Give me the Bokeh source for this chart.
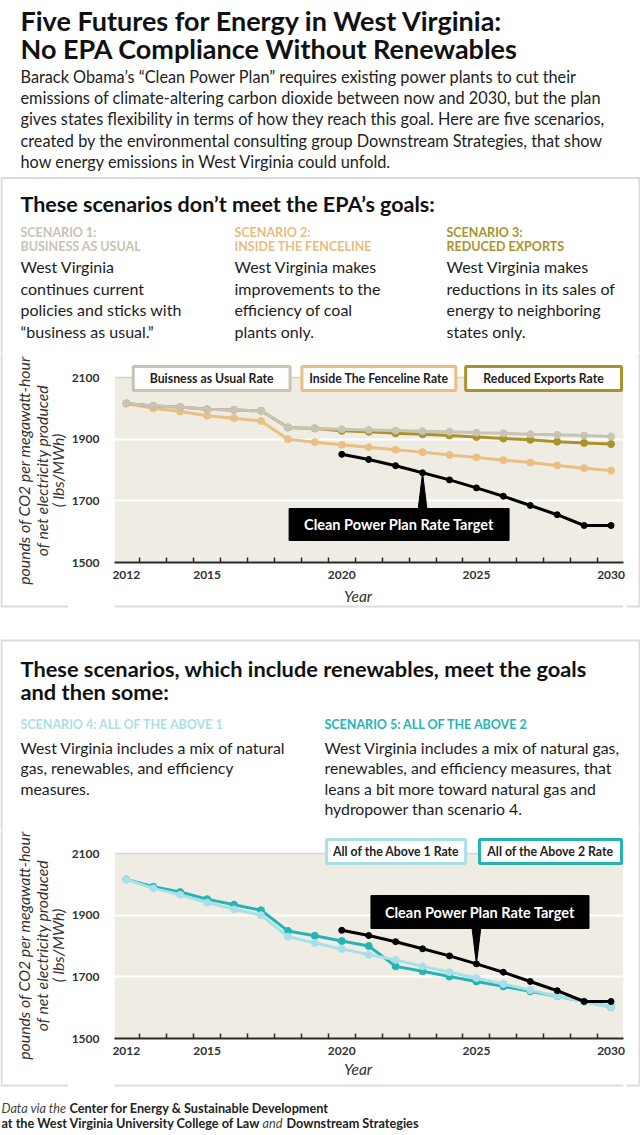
from math import pi
from bokeh.plotting import figure
from bokeh.layouts import column, row
from bokeh.models import Range1d, FixedTicker
from bokeh.embed import file_html
from bokeh.resources import INLINE
from bokeh.core.properties import value

# ---------------- data ----------------
years = list(range(2012, 2031))
business_as_usual = [2016, 2008, 2004, 1997, 1995, 1992, 1938, 1935, 1932, 1930,
                     1928, 1926, 1924, 1921, 1919, 1916, 1914, 1912, 1909]
inside_fenceline = [2016, 2000, 1990, 1976, 1968, 1959, 1900, 1890, 1882, 1874,
                    1866, 1858, 1849, 1841, 1832, 1824, 1815, 1806, 1798]
reduced_exports = [2016, 2008, 2004, 1997, 1995, 1992, 1938, 1935, 1927, 1924,
                   1919, 1916, 1912, 1907, 1902, 1898, 1892, 1888, 1884]
all_above_1 = [2016, 1987, 1966, 1941, 1919, 1900, 1830, 1810, 1790, 1772,
               1755, 1734, 1715, 1696, 1677, 1657, 1637, 1620, 1602]
all_above_2 = [2016, 1992, 1975, 1952, 1934, 1916, 1849, 1833, 1816, 1800,
               1734, 1718, 1701, 1685, 1669, 1653, 1637, 1620, 1602]
cpp_years = list(range(2020, 2031))
cpp_target = [1851, 1834, 1814, 1791, 1768, 1742, 1715, 1685, 1655, 1620, 1620]
y_ticks = [1500, 1700, 1900, 2100]
x_label_years = [2012, 2015, 2020, 2025, 2030]

# ---------------- style ----------------
FONT = "Lato"
BEIGE = "#efede3"
C_BAU = "#c8c3b4"
C_FENCE = "#eabf84"
C_RED = "#a8942a"
C_A1 = "#a9dfe8"
C_A2 = "#25b4b6"
BORDER = "#dcdcdc"
DARK = "#1c1c1c"
W = 640


def pix_fig(x0, x1, y0, y1):
    p = figure(width=int(x1 - x0), height=int(y1 - y0),
               x_range=Range1d(x0, x1), y_range=Range1d(-y1, -y0),
               min_border=0, toolbar_location=None, output_backend="svg",
               x_axis_type=None, y_axis_type=None, outline_line_color=None,
               background_fill_color="white", border_fill_color="white")
    return p


def txt(p, x, y, s, size, color=DARK, style="normal", align="left",
        baseline="middle", angle=0):
    p.text(x=[x], y=[-y], text=[s], text_font=value(FONT),
           text_font_size=value(f"{size}px"), text_color=color,
           text_font_style=style, text_align=align, text_baseline=baseline,
           angle=angle)


def hline(p, x0, x1, y, color=BORDER, w=2):
    p.line(x=[x0, x1], y=[-y, -y], line_color=color, line_width=w)


def vline(p, x, y0, y1, color=BORDER, w=2):
    p.line(x=[x, x], y=[-y0, -y1], line_color=color, line_width=w)


# ---------------- header + panel 1 text ----------------
A = pix_fig(0, W, 0, 352)
txt(A, 20, 20, "Five Futures for Energy in West Virginia:", 27, "#111", "bold")
txt(A, 20, 48, "No EPA Compliance Without Renewables", 27, "#111", "bold")
para = [
    "Barack Obama\u2019s \u201cClean Power Plan\u201d requires existing power plants to cut their",
    "emissions of climate-altering carbon dioxide between now and 2030, but the plan",
    "gives states flexibility in terms of how they reach this goal. Here are five scenarios,",
    "created by the environmental consulting group Downstream Strategies, that show",
    "how energy emissions in West Virginia could unfold.",
]
for i, s in enumerate(para):
    txt(A, 20, 76 + i * 21.2, s, 16.3, "#222")
hline(A, 0, W, 177.5)
vline(A, 1, 177, 352)
vline(A, 639, 177, 352)
txt(A, 20, 203, "These scenarios don\u2019t meet the EPA\u2019s goals:", 21.5, "#111", "bold")
cols1 = [
    (20, C_BAU, ["SCENARIO 1:", "BUSINESS AS USUAL"],
     ["West Virginia", "continues current", "policies and sticks with",
      "\u201cbusiness as usual.\u201d"]),
    (234, "#e6bd80", ["SCENARIO 2:", "INSIDE THE FENCELINE"],
     ["West Virginia makes", "improvements to the", "efficiency of coal",
      "plants only."]),
    (446, C_RED, ["SCENARIO 3:", "REDUCED EXPORTS"],
     ["West Virginia makes", "reductions in its sales of",
      "energy to neighboring", "states only."]),
]
for x, c, heads, lines in cols1:
    for j, h in enumerate(heads):
        txt(A, x, 232 + j * 14, h, 12.5, c, "bold")
    for j, s in enumerate(lines):
        txt(A, x, 266 + j * 21.7, s, 16, DARK)


# ---------------- chart builder ----------------
def X(px):
    return 2012 + (px - 119) / 27.3


CX0, CX1 = 68, 626   # horizontal extent of chart figures


def make_chart(height, base_px, top_px):
    def V(py):
        return 1500 + (base_px - py) / 0.3083
    p = figure(width=CX1 - CX0, height=height,
               x_range=Range1d(X(107), X(623)),
               y_range=Range1d(1500, V(top_px)),
               min_border_left=107 - CX0, min_border_right=CX1 - 623,
               min_border_top=0,
               min_border_bottom=height - int(base_px - top_px),
               toolbar_location=None, output_backend="svg",
               outline_line_color=None, background_fill_color="white",
               border_fill_color="white")
    p.xgrid.visible = False
    p.ygrid.visible = False
    p.quad(left=[X(107)], right=[X(623)], bottom=[1500], top=[2100],
           fill_color=BEIGE, line_color=None)
    p.hspan(y=[1700, 1900], line_color="white", line_width=2)
    p.hspan(y=[2100], line_color="#d6d4cc", line_width=1.5)

    xa = p.xaxis[0]
    xa.ticker = FixedTicker(ticks=x_label_years,
                            minor_ticks=[y + 0.5 for y in years[:-1]])
    xa.axis_line_color = "#2a2a2a"
    xa.axis_line_width = 2
    xa.major_tick_line_color = None
    xa.minor_tick_in = 5
    xa.minor_tick_out = 0
    xa.minor_tick_line_color = "#2a2a2a"
    xa.minor_tick_line_width = 1.5
    xa.major_label_standoff = 2
    xa.major_label_text_font = FONT
    xa.major_label_text_font_style = "bold"
    xa.major_label_text_font_size = "12px"
    xa.major_label_text_color = "#333"

    ya = p.yaxis[0]
    ya.ticker = FixedTicker(ticks=y_ticks)
    ya.axis_line_color = None
    ya.major_tick_line_color = None
    ya.minor_tick_line_color = None
    ya.major_label_standoff = 9
    ya.major_label_text_font = FONT
    ya.major_label_text_font_style = "bold"
    ya.major_label_text_font_size = "12px"
    ya.major_label_text_color = "#333"
    return p, V


def series(p, xs, ys, color, lw=3, size=7):
    p.line(xs, ys, line_color=color, line_width=lw)
    p.scatter(xs, ys, size=size, fill_color=color, line_color=color)


def legend_box(p, V, x0, x1, y0, y1, color, label):
    p.quad(left=[X(x0)], right=[X(x1)], bottom=[V(y1)], top=[V(y0)],
           fill_color="white", line_color=color, line_width=3)
    p.text(x=[X((x0 + x1) / 2)], y=[V((y0 + y1) / 2)], text=[label],
           text_font=value(FONT), text_font_size="12.3px",
           text_font_style="bold", text_color="#222", text_align="center",
           text_baseline="middle")


def callout(p, V, bx0, bx1, by0, by1, base_y, tip_year, label):
    tip_val = cpp_target[cpp_years.index(tip_year)]
    tip_px = 119 + (tip_year - 2012) * 27.3
    p.patch(x=[X(tip_px - 4.5), tip_year, X(tip_px + 4.5)],
            y=[V(base_y), tip_val, V(base_y)],
            fill_color="black", line_color="black", line_width=1)
    p.quad(left=[X(bx0)], right=[X(bx1)], bottom=[V(by1)], top=[V(by0)],
           fill_color="black", line_color="black")
    p.text(x=[X((bx0 + bx1) / 2)], y=[V((by0 + by1) / 2)], text=[label],
           text_font=value(FONT), text_font_size="14.5px",
           text_font_style="bold", text_color="white", text_align="center",
           text_baseline="middle")


def ylabel_fig(y0, y1, center, bottom_border):
    L = pix_fig(0, CX0, y0, y1)
    vline(L, 1, y0, bottom_border)
    hline(L, 0, CX0, bottom_border)
    for xx, s in [(23, "pounds of CO2 per megawatt-hour"),
                  (41, "of net electricity produced"),
                  (57, "( lbs/MWh)")]:
        txt(L, xx, center, s, 15.8, "#333", "italic", "center", "middle", pi / 2)
    return L


def right_fig(y0, y1, bottom_border):
    R = pix_fig(CX1, W, y0, y1)
    vline(R, 639, y0, bottom_border)
    hline(R, CX1, W, bottom_border)
    return R


# ---------------- chart 1 ----------------
C1, V1 = make_chart(233, 562, 352)
series(C1, years, inside_fenceline, C_FENCE)
series(C1, years, reduced_exports, C_RED)
series(C1, years, business_as_usual, C_BAU)
series(C1, cpp_years, cpp_target, "black", 3, 6)
legend_box(C1, V1, 126, 285, 366, 390, C_BAU, "Buisness as Usual Rate")
legend_box(C1, V1, 297, 453, 366, 390, C_FENCE, "Inside The Fenceline Rate")
legend_box(C1, V1, 463, 621, 366, 390, C_RED, "Reduced Exports Rate")
callout(C1, V1, 284, 507, 508, 540, 509, 2023, "Clean Power Plan Rate Target")

L1 = ylabel_fig(352, 620, 470, 606)
R1 = right_fig(352, 620, 606)
Y1 = pix_fig(CX0, CX1, 585, 620)
txt(Y1, 335, 595, "Year", 15.5, "#333", "italic", "center", "middle")
hline(Y1, CX0, CX1, 606)

# ---------------- panel 2 text ----------------
B = pix_fig(0, W, 620, 830)
hline(B, 0, W, 640)
vline(B, 1, 640, 830)
vline(B, 639, 640, 830)
txt(B, 20, 668, "These scenarios, which include renewables, meet the goals", 21.8, "#111", "bold")
txt(B, 20, 691, "and then some:", 21.8, "#111", "bold")
cols2 = [
    (20, C_A1, "SCENARIO 4: ALL OF THE ABOVE 1",
     ["West Virginia includes a mix of natural", "gas, renewables, and efficiency",
      "measures."]),
    (324, C_A2, "SCENARIO 5: ALL OF THE ABOVE 2",
     ["West Virginia includes a mix of natural gas,",
      "renewables, and efficiency measures, that",
      "leans a bit more toward natural gas and",
      "hydropower than scenario 4."]),
]
for x, c, h, lines in cols2:
    txt(B, x, 724, h, 12.5, c, "bold")
    for j, s in enumerate(lines):
        txt(B, x, 747 + j * 20.3, s, 15.8, DARK)

# ---------------- chart 2 ----------------
C2, V2 = make_chart(231, 1038, 830)
series(C2, years, all_above_2, C_A2)
series(C2, years, all_above_1, C_A1)
series(C2, cpp_years, cpp_target, "black", 3, 6)
legend_box(C2, V2, 322, 463, 839, 863, C_A1, "All of the Above 1 Rate")
legend_box(C2, V2, 477, 621, 839, 863, C_A2, "All of the Above 2 Rate")
callout(C2, V2, 367, 588, 895, 928, 927, 2025, "Clean Power Plan Rate Target")

L2 = ylabel_fig(830, 1095, 945, 1085)
R2 = right_fig(830, 1095, 1085)
Y2 = pix_fig(CX0, CX1, 1061, 1095)
txt(Y2, 335, 1068, "Year", 15.5, "#333", "italic", "center", "middle")
hline(Y2, CX0, CX1, 1085)

# ---------------- footer ----------------
F = pix_fig(0, W, 1095, 1135)
txt(F, 1, 1107, "Data via the", 12.7, "#444", "italic")
txt(F, 69, 1107, "Center for Energy & Sustainable Development", 12.7, "#222", "bold")
txt(F, 1, 1122, "at the West Virginia University College of Law", 12.7, "#222", "bold")
txt(F, 262, 1122, "and", 12.7, "#444", "italic")
txt(F, 286, 1122, "Downstream Strategies", 12.7, "#222", "bold")

layout = column(
    A,
    row(L1, column(C1, Y1, spacing=0), R1, spacing=0),
    B,
    row(L2, column(C2, Y2, spacing=0), R2, spacing=0),
    F,
    spacing=0,
)

open("out.html", "w").write(file_html(layout, INLINE))
